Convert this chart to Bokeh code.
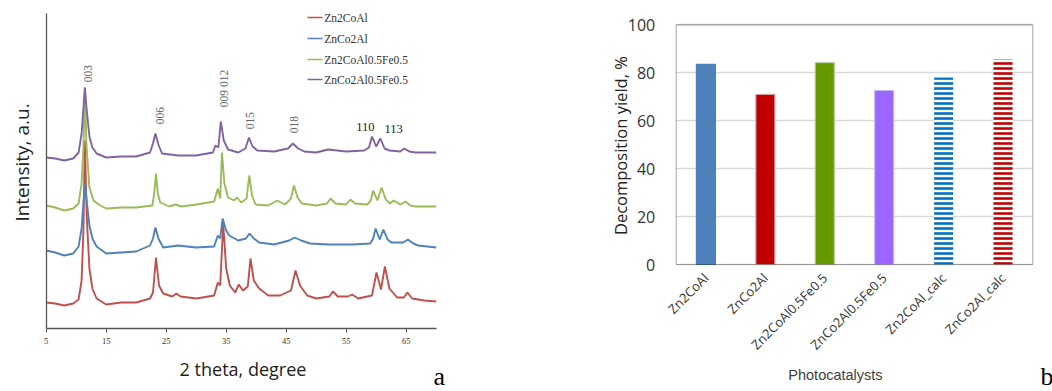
import math
from bokeh.plotting import figure
from bokeh.models import (Range1d, ColumnDataSource, Label, FixedTicker, LinearAxis,
                          BoxAnnotation, Grid)
from bokeh.layouts import row
from bokeh.embed import file_html
from bokeh.resources import INLINE
from bokeh.core.properties import value

# ---------------- Panel a: XRD patterns (2 theta, intensity a.u.) ----------------
two_theta_ticks = [5, 15, 25, 35, 45, 55, 65]
series_names = ["Zn2CoAl", "ZnCo2Al", "Zn2CoAl0.5Fe0.5", "ZnCo2Al0.5Fe0.5"]

zn2coal_xrd = [(5, 26), (6.5, 25), (8, 23), (9.5, 25), (10.4, 29), (10.9, 48), (11.2, 98),
               (11.45, 188), (11.75, 113), (12.2, 60), (12.7, 40), (13.4, 30), (15, 24),
               (17.5, 26), (20, 26), (22.3, 30), (22.8, 36), (23.3, 71), (23.8, 43), (24.5, 35),
               (26.0, 32), (26.7, 35), (27.4, 32), (30, 30), (33.0, 33), (33.6, 46), (34.0, 43),
               (34.5, 105), (35.0, 60), (35.6, 43), (36.5, 36), (37.1, 44), (37.8, 38),
               (38.6, 42), (39.05, 70), (39.6, 48), (40.5, 40), (42, 33), (44, 33), (45.8, 38),
               (46.55, 58), (47.3, 43), (48.5, 33), (50, 30), (52.2, 32), (52.8, 37), (53.6, 32),
               (55.3, 32), (56.0, 34), (57.0, 30), (59.3, 33), (60.05, 56), (60.8, 39),
               (61.45, 62), (62.2, 40), (63.5, 31), (64.6, 31), (65.2, 36), (66.0, 30),
               (68, 28), (70, 27)]

znco2al_xrd = [(5, 78), (6.5, 76), (8, 73), (9.5, 75), (10.4, 82), (10.9, 100), (11.2, 125),
               (11.45, 145), (11.75, 128), (12.2, 103), (12.7, 90), (13.4, 82), (15, 75),
               (17.5, 76), (20, 77), (22.3, 83), (22.8, 90), (23.2, 101), (23.7, 90), (24.5, 81),
               (27, 83), (30, 81), (33.0, 82), (33.6, 93), (34.0, 90), (34.4, 110), (35.0, 98),
               (35.5, 93), (37, 88), (38.3, 90), (38.9, 95), (39.6, 90), (40.5, 86), (43, 84),
               (45.5, 88), (46.4, 91), (47.5, 88), (49, 85), (52, 84), (56, 84), (59, 85),
               (59.5, 90), (59.9, 100), (60.6, 89), (61.2, 99), (61.9, 89), (62.5, 86),
               (64.5, 86), (65.3, 89), (66.2, 85), (67, 83), (70, 81)]

zn2coalfe_xrd = [(5, 123), (6.5, 121), (8, 118), (9.5, 120), (10.4, 125), (10.9, 145),
                 (11.2, 180), (11.45, 241), (11.7, 185), (12.2, 141), (12.9, 128), (14, 123),
                 (15, 120), (17.5, 121), (20, 121), (22.7, 123), (23.0, 135), (23.3, 155),
                 (23.6, 135), (24.0, 126), (25.5, 122), (26.5, 124), (27.5, 122), (30, 124),
                 (33, 127), (33.6, 140), (34.0, 130), (34.3, 176), (34.7, 145), (35.3, 131),
                 (36.3, 128), (36.8, 131), (37.5, 126), (38.4, 130), (38.85, 153), (39.3, 133),
                 (39.9, 124), (42, 123), (43.5, 128), (44.8, 124), (45.8, 130), (46.3, 143),
                 (46.9, 131), (47.6, 125), (50, 123), (51.8, 125), (52.4, 130), (53.2, 125),
                 (55.0, 124), (55.7, 129), (56.5, 125), (58.5, 124), (59.1, 128), (59.5, 138),
                 (60.2, 128), (60.9, 141), (61.6, 129), (62.3, 125), (62.9, 128), (64.0, 124),
                 (64.9, 127), (65.7, 123), (66.5, 122), (70, 122)]

znco2alfe_xrd = [(5, 171), (6.5, 170), (8, 168), (9.5, 170), (10.4, 176), (10.9, 195),
                 (11.2, 220), (11.45, 241), (11.7, 222), (12.2, 192), (12.7, 181), (13.4, 175),
                 (15, 171), (17.5, 172), (20, 172), (22.3, 176), (22.8, 185), (23.2, 195),
                 (23.7, 184), (24.3, 175), (27, 173), (30, 173), (32.8, 176), (33.2, 183),
                 (33.7, 181), (34.1, 207), (34.6, 188), (35.3, 179), (37, 176), (38.2, 180),
                 (38.8, 191), (39.4, 182), (40.2, 178), (43, 177), (45.3, 180), (46.1, 185),
                 (47.0, 180), (48, 177), (50, 176), (52, 179), (55, 177), (58, 178), (58.8, 181),
                 (59.3, 192), (60.0, 182), (60.7, 190), (61.4, 180), (62.2, 178), (64.0, 177),
                 (64.7, 180), (65.5, 177), (66.5, 176), (70, 176)]

peak_labels = ["003", "006", "009 012", "015", "018"]
peak_label_x = [11.9, 23.9, 34.7, 39.05, 46.3]
peak_label_y = [255, 213, 240, 208, 204]
plane_labels = ["110", "113"]
plane_label_x = [58.2, 62.9]
plane_label_y = [202, 200]

# ---------------- Panel b: decomposition yield ----------------
catalysts = ["Zn2CoAl", "ZnCo2Al", "Zn2CoAl0.5Fe0.5", "ZnCo2Al0.5Fe0.5",
             "Zn2CoAl_calc", "ZnCo2Al_calc"]
yield_pct = [83.5, 71.0, 84.2, 72.6, 78.0, 85.5]
yield_ticks = [0, 20, 40, 60, 80, 100]

# ---------------- styles ----------------
xrd_colors = ["#C0504D", "#4F81BD", "#9BBB59", "#8064A2"]
bar_fill = ["#4F81BD", "#C00000", "#669900", "#9966FF", "#FFFFFF", "#FFFFFF"]
bar_line = ["#4F81BD", "#D9A6A6", "#B5C59A", "#C9B6F2", None, None]
bar_hatch = ["blank", "blank", "blank", "blank", "horizontal_line", "horizontal_line"]
bar_hatch_color = ["#FFFFFF", "#FFFFFF", "#FFFFFF", "#FFFFFF", "#0070C0", "#C00000"]

# =============== figure a ===============
pa = figure(width=560, height=391, x_range=Range1d(-2.617, 90.72), y_range=Range1d(-63, 328),
            x_axis_type=None, y_axis_type=None, output_backend="svg", toolbar_location=None,
            min_border=0)
pa.outline_line_color = None
pa.background_fill_color = "white"

for name, pts, col in zip(series_names,
                          [zn2coal_xrd, znco2al_xrd, zn2coalfe_xrd, znco2alfe_xrd],
                          xrd_colors):
    pa.line([p[0] for p in pts], [p[1] for p in pts], line_color=col, line_width=1.9)

pa.text(x=peak_label_x, y=peak_label_y, text=peak_labels, angle=math.pi / 2,
        text_align="center", text_baseline="middle",
        text_font=value("Liberation Serif"), text_font_size="11.5px", text_color="#666666")
pa.text(x=plane_label_x, y=plane_label_y, text=plane_labels,
        text_align="center", text_baseline="middle",
        text_font=value("Liberation Serif"), text_font_size="12.5px", text_color="#222222")

xa = LinearAxis(fixed_location=0, bounds=(5, 70), ticker=FixedTicker(ticks=two_theta_ticks))
xa.axis_line_color = "#555555"
xa.axis_line_width = 1.3
xa.major_tick_line_color = "#555555"
xa.major_tick_out = 4
xa.major_tick_in = 0
xa.minor_tick_line_color = None
xa.major_label_text_font = "Liberation Serif"
xa.major_label_text_font_size = "8.5px"
xa.major_label_text_color = "#333333"
xa.major_label_standoff = 5
pa.add_layout(xa, "below")

ya = LinearAxis(fixed_location=5, bounds=(0, 315), ticker=FixedTicker(ticks=[]))
ya.axis_line_color = "#555555"
ya.axis_line_width = 1.3
ya.major_tick_line_color = None
ya.minor_tick_line_color = None
pa.add_layout(ya, "left")

# legend (key layout in data units of panel a)
legend_x0, legend_x1, legend_tx = 48.55, 51.05, 51.35
legend_rows = [311, 290, 269, 249]
pa.segment(x0=[legend_x0] * 4, y0=legend_rows, x1=[legend_x1] * 4, y1=legend_rows,
           line_color=xrd_colors, line_width=1.5)
pa.text(x=[legend_tx] * 4, y=legend_rows, text=series_names, text_align="left",
        text_baseline="middle", text_font=value("Liberation Serif"),
        text_font_size="11.5px", text_color="#333333")

pa.add_layout(Label(x=37.8, y=-40, text="2 theta, degree", text_align="center",
                    text_baseline="middle", text_font="Open Sans", text_font_size="18px",
                    text_color="#222222"))
pa.add_layout(Label(x=0.97, y=166, text="Intensity, a.u.", angle=math.pi / 2,
                    text_align="center", text_baseline="middle", text_font="Open Sans",
                    text_font_size="19px", text_color="#222222"))
pa.add_layout(Label(x=69.55, y=-48, text="a", text_align="left", text_baseline="middle",
                    text_font="Liberation Serif", text_font_size="26px", text_color="#000000"))

# =============== figure b ===============
pb = figure(width=492, height=391, x_range=Range1d(-1.947, 6.332), y_range=Range1d(-52.98, 110.14),
            x_axis_type=None, y_axis_type=None, output_backend="svg", toolbar_location=None,
            min_border=0)
pb.outline_line_color = None
pb.background_fill_color = "white"

bar_pos = [i + 0.5 for i in range(len(catalysts))]

bxa = LinearAxis(fixed_location=0, bounds=(0, len(catalysts)), ticker=FixedTicker(ticks=bar_pos),
                 major_label_overrides={pos: cat for pos, cat in zip(bar_pos, catalysts)})
bxa.axis_line_color = None
bxa.major_tick_line_color = None
bxa.minor_tick_line_color = None
bxa.major_label_orientation = math.pi / 4
bxa.major_label_text_font = "Open Sans"
bxa.major_label_text_font_size = "13px"
bxa.major_label_text_color = "#333333"
bxa.major_label_standoff = 5
pb.add_layout(bxa, "below")

bya = LinearAxis(fixed_location=0, bounds=(0, 100), ticker=FixedTicker(ticks=yield_ticks))
bya.axis_line_color = None
bya.major_tick_line_color = None
bya.minor_tick_line_color = None
bya.major_label_text_font = "Open Sans"
bya.major_label_text_font_size = "16px"
bya.major_label_text_color = "#333333"
bya.major_label_standoff = 15
pb.add_layout(bya, "left")

grid_ok = True
ygrid = Grid(dimension=1, ticker=FixedTicker(ticks=yield_ticks), grid_line_color="#d9d9d9",
             grid_line_width=1.5)
try:
    ygrid.cross_bounds = (0, len(catalysts))
except Exception:
    grid_ok = False
if grid_ok:
    pb.add_layout(ygrid)
else:
    pb.segment(x0=[0] * len(yield_ticks), x1=[len(catalysts)] * len(yield_ticks),
               y0=yield_ticks, y1=yield_ticks, line_color="#d9d9d9", line_width=1.5)

src = ColumnDataSource(dict(pos=bar_pos, val=yield_pct, fill=bar_fill, line=bar_line,
                            hatch=bar_hatch, hcol=bar_hatch_color))
pb.vbar(x="pos", top="val", width=0.32, source=src, fill_color="fill", line_color="line",
        line_width=1.2, hatch_pattern="hatch", hatch_color="hcol", hatch_weight=2.6,
        hatch_scale=5)

pb.add_layout(BoxAnnotation(left=0, right=len(catalysts), bottom=0, top=100, fill_color=None,
                            fill_alpha=0, line_color="#000000", line_width=1.2))

pb.add_layout(Label(x=-0.937, y=49.6, text="Decomposition yield, %", angle=math.pi / 2,
                    text_align="center", text_baseline="middle", text_font="Open Sans",
                    text_font_size="16.5px", text_color="#222222"))
pb.add_layout(Label(x=2.68, y=-46.3, text="Photocatalysts", text_align="center",
                    text_baseline="middle", text_font="Liberation Sans",
                    text_font_size="14.5px", text_color="#404040"))
pb.add_layout(Label(x=6.13, y=-46.7, text="b", text_align="left", text_baseline="middle",
                    text_font="Liberation Serif", text_font_size="26px", text_color="#000000"))

layout = row(pa, pb)
open("out.html", "w").write(file_html(layout, INLINE))
